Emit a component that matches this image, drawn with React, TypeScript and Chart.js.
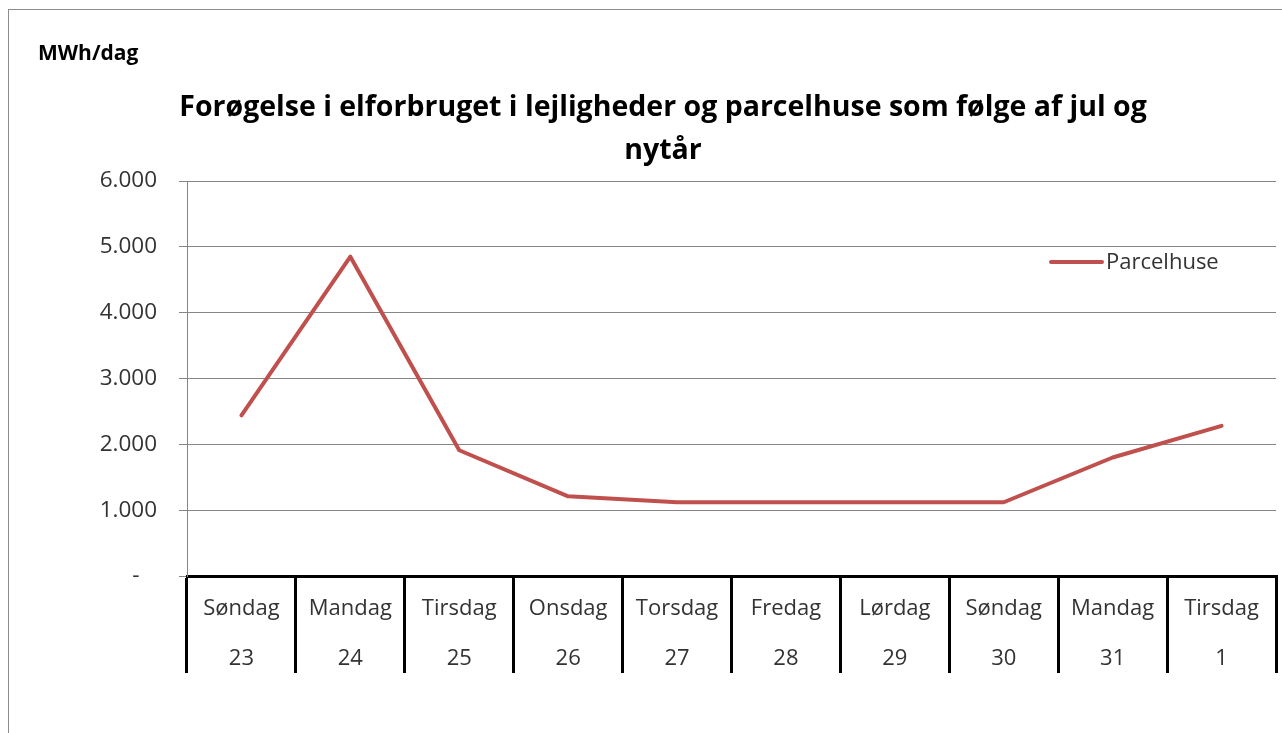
import React, { useEffect, useRef } from "react";
import { Chart, registerables } from "chart.js";

Chart.register(...registerables);

const categoryDays = ["Søndag", "Mandag", "Tirsdag", "Onsdag", "Torsdag", "Fredag", "Lørdag", "Søndag", "Mandag", "Tirsdag"];
const categoryDates = ["23", "24", "25", "26", "27", "28", "29", "30", "31", "1"];
const parcelhuse = [2440, 4850, 1910, 1210, 1120, 1120, 1120, 1120, 1800, 2280];
const yTicks = [0, 1000, 2000, 3000, 4000, 5000, 6000];
const titleLines = ["Forøgelse i elforbruget i lejligheder og parcelhuse som følge af jul og", "nytår"];
const unitLabel = "MWh/dag";
const seriesName = "Parcelhuse";

const FONT = "'Open Sans', sans-serif";
const TEXT = "#333333";
const RED = "#C0504D";

export default function App() {
  const ref = useRef<HTMLCanvasElement | null>(null);

  useEffect(() => {
    document.body.style.margin = "0";
    const canvas = ref.current!;
    const decor = {
      id: "decor",
      afterDraw(chart: any) {
        const ctx = chart.ctx;
        ctx.save();
        ctx.strokeStyle = "#8c8c8c";
        ctx.lineWidth = 1;
        ctx.strokeRect(8.5, 9.5, 1300, 760);
        ctx.fillStyle = "#000";
        ctx.textBaseline = "middle";
        ctx.textAlign = "left";
        ctx.font = `bold 21px ${FONT}`;
        ctx.fillText(unitLabel, 38, 54);
        ctx.textAlign = "center";
        ctx.font = `bold 28.5px ${FONT}`;
        ctx.fillText(titleLines[0], 663, 108);
        ctx.fillText(titleLines[1], 663, 151);
        // legend
        ctx.strokeStyle = RED;
        ctx.lineWidth = 4;
        ctx.lineCap = "round";
        ctx.beginPath();
        ctx.moveTo(1051, 262);
        ctx.lineTo(1102, 262);
        ctx.stroke();
        ctx.fillStyle = TEXT;
        ctx.textAlign = "left";
        ctx.font = `22px ${FONT}`;
        ctx.fillText(seriesName, 1106, 263);
        ctx.restore();
      },
    };
    const chart = new Chart(canvas, {
      type: "line",
      data: {
        labels: categoryDays.map((d, i) => [d, categoryDates[i]]),
        datasets: [
          {
            label: seriesName,
            data: parcelhuse,
            borderColor: RED,
            backgroundColor: RED,
            borderWidth: 4,
            pointRadius: 0,
            tension: 0,
            borderJoinStyle: "round",
            borderCapStyle: "round",
          },
        ],
      },
      options: {
        animation: false,
        responsive: false,
        layout: { padding: { top: 181, left: 0, right: 6, bottom: 0 } },
        plugins: { legend: { display: false }, title: { display: false }, tooltip: { enabled: false } },
        scales: {
          x: {
            type: "category",
            offset: true,
            grid: {
              offset: true,
              drawOnChartArea: false,
              color: "#000",
              lineWidth: 3,
              tickLength: 97,
            },
            border: { display: true, color: "#000", width: 3 },
            ticks: {
              autoSkip: false,
              maxRotation: 0,
              minRotation: 0,
              padding: -89,
              color: TEXT,
              font: { family: FONT, size: 22, lineHeight: "50px" },
            },
            afterFit(scale: any) {
              scale.height = 157;
            },
          },
          y: {
            min: 0,
            max: 6000,
            afterBuildTicks(scale: any) {
              scale.ticks = yTicks.map((v) => ({ value: v }));
            },
            grid: { color: "#868686", lineWidth: 1, tickLength: 8 },
            border: { display: true, color: "#868686", width: 1 },
            ticks: {
              padding: 22,
              color: TEXT,
              font: { family: FONT, size: 22.5 },
              callback: (v: any) => (Number(v) === 0 ? "-   " : `${Number(v) / 1000}.000`),
            },
            afterFit(scale: any) {
              scale.width = 187;
            },
          },
        },
      },
      plugins: [decor],
    });
    return () => chart.destroy();
  }, []);

  return <canvas ref={ref} width={1282} height={733} style={{ display: "block" }} />;
}
